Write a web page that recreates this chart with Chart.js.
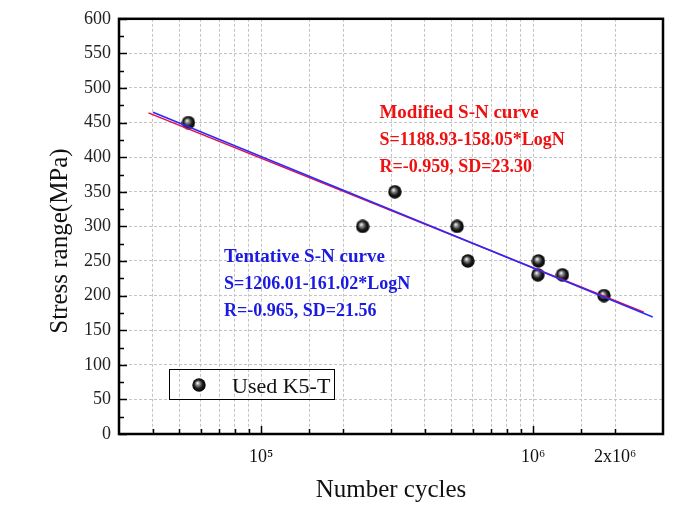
<!DOCTYPE html>
<html>
<head>
<meta charset="utf-8">
<script src="https://cdn.jsdelivr.net/npm/chart.js@4.4.0/dist/chart.umd.min.js"></script>
<style>
  html, body { margin: 0; padding: 0; background: #fff; }
  #wrap { width: 698px; height: 515px; }
</style>
</head>
<body>
<div id="wrap"><canvas id="sn" width="698" height="515"></canvas></div>
<script>
// test points (Used K5-T)
const cycles = [54000, 236000, 310000, 525000, 575000, 1045000, 1040000, 1280000, 1820000];
const stress = [450, 300, 350, 300, 250, 250, 230, 230, 200];

// regression lines, end points
const tentativeN = [40000, 2750000];
const tentativeS = [465, 169];
const modifiedN = [38500, 2550000];
const modifiedS = [464, 176];

const xTickValues = [100000, 1000000, 2000000];
const xTickLabels = ["10⁵", "10⁶", "2x10⁶"];

const modifiedText = ["Modified S-N curve", "S=1188.93-158.05*LogN", "R=-0.959, SD=23.30"];
const tentativeText = ["Tentative S-N curve", "S=1206.01-161.02*LogN", "R=-0.965, SD=21.56"];

const serif = "'Liberation Serif', 'Times New Roman', serif";

// shaded black ball marker
const ball = document.createElement("canvas");
ball.width = 14;
ball.height = 14;
(() => {
  const c = ball.getContext("2d");
  const g = c.createRadialGradient(5.5, 5, 0.3, 7, 7, 7);
  g.addColorStop(0, "#f4f4f4");
  g.addColorStop(0.25, "#8a8a8a");
  g.addColorStop(0.6, "#1c1c1c");
  g.addColorStop(1, "#000");
  c.fillStyle = g;
  c.beginPath();
  c.arc(7, 7, 6.7, 0, Math.PI * 2);
  c.fill();
})();

const toPoints = (xs, ys) => xs.map((x, i) => ({ x: x, y: ys[i] }));

// frame, inward ticks, notes, y title and legend box
const extras = {
  id: "extras",
  afterDatasetsDraw(chart) {
    const ctx = chart.ctx;
    const a = chart.chartArea;
    const xs = chart.scales.x;
    const ys = chart.scales.y;
    ctx.save();
    ctx.strokeStyle = "#000";
    ctx.lineWidth = 1.5;
    ctx.beginPath();
    for (let v = 0; v <= 600; v += 25) {
      const y = Math.round(ys.getPixelForValue(v)) + 0.5;
      const len = v % 50 === 0 ? 8 : 5;
      ctx.moveTo(a.left, y);
      ctx.lineTo(a.left + len, y);
    }
    xs.ticks.forEach((t) => {
      const x = Math.round(xs.getPixelForValue(t.value)) + 0.5;
      const lg = Math.log10(t.value);
      const len = Math.abs(lg - Math.round(lg)) < 1e-6 ? 8 : 5;
      ctx.moveTo(x, a.bottom);
      ctx.lineTo(x, a.bottom - len);
    });
    ctx.stroke();

    ctx.lineWidth = 2.5;
    ctx.strokeRect(a.left, a.top, a.right - a.left, a.bottom - a.top);
    ctx.restore();
  },
  afterDraw(chart) {
    const ctx = chart.ctx;
    const xs = chart.scales.x;
    const ys = chart.scales.y;
    ctx.save();
    ctx.textBaseline = "alphabetic";
    ctx.textAlign = "left";

    const block = (lines, color, n, s) => {
      const x = xs.getPixelForValue(n);
      const y0 = ys.getPixelForValue(s);
      ctx.fillStyle = color;
      lines.forEach((t, i) => {
        ctx.font = "bold " + (i === 0 ? 19 : 18) + "px " + serif;
        ctx.fillText(t, x, y0 + i * 27);
      });
    };
    block(modifiedText, "#ee1111", 272000, 456);
    block(tentativeText, "#1a1ae0", 73000, 248);

    // y axis title
    ctx.fillStyle = "#111";
    ctx.font = "25px " + serif;
    ctx.textAlign = "center";
    ctx.textBaseline = "middle";
    ctx.translate(60, 241);
    ctx.rotate(-Math.PI / 2);
    ctx.fillText("Stress range(MPa)", 0, 0);
    ctx.setTransform(1, 0, 0, 1, 0, 0);

    // legend
    ctx.strokeStyle = "#000";
    ctx.lineWidth = 1;
    ctx.strokeRect(169.5, 369.5, 165, 30);
    ctx.drawImage(ball, 192, 378);
    ctx.fillStyle = "#111";
    ctx.textAlign = "left";
    ctx.textBaseline = "alphabetic";
    ctx.font = "22px " + serif;
    ctx.fillText(chart.data.datasets[2].label, 232, 393);
    ctx.restore();
  },
};

new Chart(document.getElementById("sn"), {
  type: "scatter",
  data: {
    datasets: [
      {
        label: "Tentative S-N curve",
        data: toPoints(tentativeN, tentativeS),
        showLine: true,
        borderColor: "#2a2aff",
        borderWidth: 1.5,
        pointRadius: 0,
      },
      {
        label: "Modified S-N curve",
        data: toPoints(modifiedN, modifiedS),
        showLine: true,
        borderColor: "#e0104a",
        borderWidth: 1.5,
        pointRadius: 0,
      },
      {
        label: "Used K5-T",
        data: toPoints(cycles, stress),
        pointStyle: ball,
        pointRadius: 7,
      },
    ],
  },
  options: {
    responsive: false,
    animation: false,
    layout: { padding: { top: 16, right: 35, left: 0, bottom: 0 } },
    plugins: {
      legend: { display: false },
      tooltip: { enabled: false },
    },
    scales: {
      x: {
        type: "logarithmic",
        min: 30000,
        max: 3000000,
        afterFit: (s) => { s.height = 81; },
        afterBuildTicks: (s) => {
          s.ticks = s.ticks.filter((t) => t.value > 30000 * 1.001 && t.value < 3000000 * 0.999);
        },
        grid: { color: "#c4c4c4", lineWidth: 1, drawTicks: false },
        border: { display: false, dash: [3, 2] },
        ticks: {
          autoSkip: false,
          maxRotation: 0,
          padding: 12,
          color: "#111",
          font: { family: serif, size: 18 },
          callback: (v) => {
            const k = xTickValues.findIndex((t) => Math.abs(t - v) < 1);
            return k < 0 ? "" : xTickLabels[k];
          },
        },
        title: {
          display: true,
          text: "Number cycles",
          color: "#111",
          font: { family: serif, size: 25 },
          padding: { top: 0, bottom: 10 },
        },
      },
      y: {
        min: 0,
        max: 600,
        afterFit: (s) => { s.width = 119; },
        grid: { color: "#c4c4c4", lineWidth: 1, drawTicks: false },
        border: { display: false, dash: [3, 2] },
        ticks: {
          stepSize: 50,
          padding: 8,
          color: "#222",
          font: { family: serif, size: 18 },
        },
      },
    },
  },
  plugins: [extras],
});
</script>
</body>
</html>
